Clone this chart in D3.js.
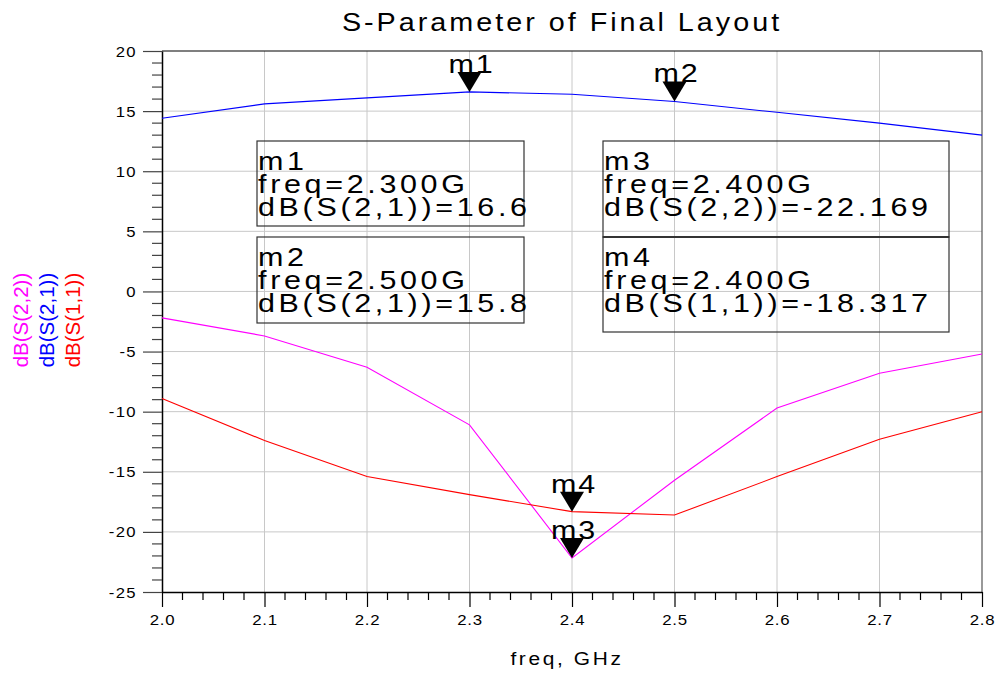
<!DOCTYPE html>
<html><head><meta charset="utf-8">
<script src="https://cdn.jsdelivr.net/npm/d3@7"></script>
<style>
body{margin:0;background:#fff;}
text{font-family:"Liberation Sans",Arial,sans-serif;fill:#000;}
</style></head>
<body>
<svg id="c" width="998" height="675"></svg>
<script>
const freqs = [2.0, 2.1, 2.2, 2.3, 2.4, 2.5, 2.6, 2.7, 2.8];
const s21 = [14.4, 15.6, 16.1, 16.6, 16.4, 15.8, 14.9, 14.0, 13.0];
const s22 = [-2.2, -3.7, -6.3, -11.1, -22.169, -15.7, -9.7, -6.8, -5.2];
const s11 = [-8.9, -12.4, -15.4, -16.9, -18.317, -18.6, -15.4, -12.3, -10.0];
const xTicks = [2.0, 2.1, 2.2, 2.3, 2.4, 2.5, 2.6, 2.7, 2.8];
const yTicks = [-25, -20, -15, -10, -5, 0, 5, 10, 15, 20];
const seriesNames = ["dB(S(2,2))", "dB(S(2,1))", "dB(S(1,1))"];
const seriesColors = ["#ff00ff", "#0000ff", "#ff0000"];
const markers = [
  {name: "m1", f: 2.3, v: 16.6, series: "dB(S(2,1))", label: "16.6"},
  {name: "m2", f: 2.5, v: 15.8, series: "dB(S(2,1))", label: "15.8"},
  {name: "m3", f: 2.4, v: -22.169, series: "dB(S(2,2))", label: "-22.169"},
  {name: "m4", f: 2.4, v: -18.317, series: "dB(S(1,1))", label: "-18.317"}
];
const freqLabels = {m1: "2.300G", m2: "2.500G", m3: "2.400G", m4: "2.400G"};

const svg = d3.select("#c");
const L = 162, R = 982, T = 51, B = 592;
const x = d3.scaleLinear().domain([2.0, 2.8]).range([L, R]);
const y = d3.scaleLinear().domain([-25, 20]).range([B, T]);

// stretched text helper
function stext(parent, tx, ty, str, size, sx, anchor, spacing) {
  const gg = parent.append("g").attr("transform", `translate(${tx},${ty}) scale(${sx},1)`);
  return gg.append("text").attr("x", 0).attr("y", 0).attr("text-anchor", anchor || "start")
    .attr("font-size", size + "px").attr("letter-spacing", (spacing || 0) + "px").text(str);
}

// grid
const g = svg.append("g");
g.selectAll(".gx").data(xTicks.slice(1, -1)).join("line")
  .attr("x1", d => x(d)).attr("x2", d => x(d)).attr("y1", T).attr("y2", B)
  .attr("stroke", "#c8c8c8").attr("stroke-width", 1);
g.selectAll(".gy").data(yTicks.slice(1, -1)).join("line")
  .attr("x1", L).attr("x2", R).attr("y1", d => y(d)).attr("y2", d => y(d))
  .attr("stroke", "#c8c8c8").attr("stroke-width", 1);

// frame
svg.append("line").attr("x1", L).attr("x2", R).attr("y1", T).attr("y2", T).attr("stroke", "#000").attr("stroke-width", 1.2);
svg.append("line").attr("x1", R).attr("x2", R).attr("y1", T).attr("y2", B).attr("stroke", "#555").attr("stroke-width", 1.2);

// minor ticks
const xMinor = d3.range(0, 80).filter(i => i % 10 !== 0 && i % 2 === 0).map(i => 2.0 + i / 100);
const yMinor = d3.range(-25, 20).filter(v => v % 5 !== 0);

const xAxis = d3.axisBottom(x).tickValues(xTicks).tickFormat(d3.format(".1f")).tickSize(15).tickSizeOuter(0);
const xa = svg.append("g").attr("transform", `translate(0,${B})`).call(xAxis);
xa.select(".domain").attr("stroke", "#000").attr("stroke-width", 1.5);
xa.selectAll(".tick line").attr("stroke", "#000").attr("stroke-width", 1.2);
xa.selectAll(".tick text").remove();
xa.selectAll(".tick").each(function(d) {
  stext(d3.select(this), 0, 33, d3.format(".1f")(d), 15, 1.12, "middle", 0.6);
});
svg.append("g").selectAll("line").data(xMinor).join("line")
  .attr("x1", d => x(d)).attr("x2", d => x(d)).attr("y1", B).attr("y2", B + 8)
  .attr("stroke", "#000").attr("stroke-width", 1.2);

const yAxis = d3.axisLeft(y).tickValues(yTicks).tickSize(19).tickSizeOuter(0);
const ya = svg.append("g").attr("transform", `translate(${L},0)`).call(yAxis);
ya.select(".domain").attr("stroke", "#000").attr("stroke-width", 1.5);
ya.selectAll(".tick line").attr("stroke", "#444").attr("stroke-width", 1.2);
ya.selectAll(".tick text").remove();
ya.selectAll(".tick").each(function(d) {
  stext(d3.select(this), -25, 5, String(d), 14.5, 1.15, "end", 1.2);
});
svg.append("g").selectAll("line").data(yMinor).join("line")
  .attr("x1", L - 10).attr("x2", L).attr("y1", d => y(d)).attr("y2", d => y(d))
  .attr("stroke", "#444").attr("stroke-width", 1.2);

// series
const line = d3.line().x(d => x(d[0])).y(d => y(d[1]));
const seriesData = [s22, s21, s11];
seriesData.forEach((vals, i) => {
  svg.append("path").datum(freqs.map((f, j) => [f, vals[j]]))
    .attr("d", line).attr("fill", "none").attr("stroke", seriesColors[i]).attr("stroke-width", 1.1);
});

// left labels
const lx = [20, 46, 72];
seriesNames.forEach((n, i) => {
  svg.append("text").attr("transform", `translate(${lx[i]},320) rotate(-90)`)
    .attr("text-anchor", "middle").attr("dominant-baseline", "central")
    .attr("font-size", "20.5px").style("fill", seriesColors[i]).text(n);
});

// title and x label
stext(svg, 562, 31, "S-Parameter of Final Layout", 25, 1.15, "middle", 2.6);
stext(svg, 567, 665, "freq, GHz", 19, 1.1, "middle", 2.4);

// markers
markers.forEach(m => {
  const px = x(m.f), py = y(m.v);
  stext(svg, px + 2, py - 19, m.name, 25, 1.22, "middle", 1.5);
  svg.append("path").attr("d", `M${px - 12},${py - 20}L${px + 12},${py - 20}L${px},${py}Z`).attr("fill", "#000");
});

// marker boxes
const boxes = [
  {m: markers[0], x0: 257, x1: 524, y0: 141, y1: 226},
  {m: markers[1], x0: 257, x1: 524, y0: 237, y1: 323},
  {m: markers[2], x0: 603, x1: 949, y0: 141, y1: 237},
  {m: markers[3], x0: 603, x1: 949, y0: 237, y1: 332}
];
boxes.forEach(b => {
  svg.append("rect").attr("x", b.x0).attr("y", b.y0).attr("width", b.x1 - b.x0).attr("height", b.y1 - b.y0)
    .attr("fill", "none").attr("stroke", "#333").attr("stroke-width", 1.2);
  const lines = [b.m.name, "freq=" + freqLabels[b.m.name], b.m.series + "=" + b.m.label];
  lines.forEach((t, i) => {
    stext(svg, b.x0 + 1, b.y0 + 29 + i * 23, t, 25, 1.22, "start", 3.0);
  });
});
svg.append("line").attr("x1", 603).attr("x2", 949).attr("y1", 237).attr("y2", 237).attr("stroke", "#333").attr("stroke-width", 2.2);
</script>
</body></html>
